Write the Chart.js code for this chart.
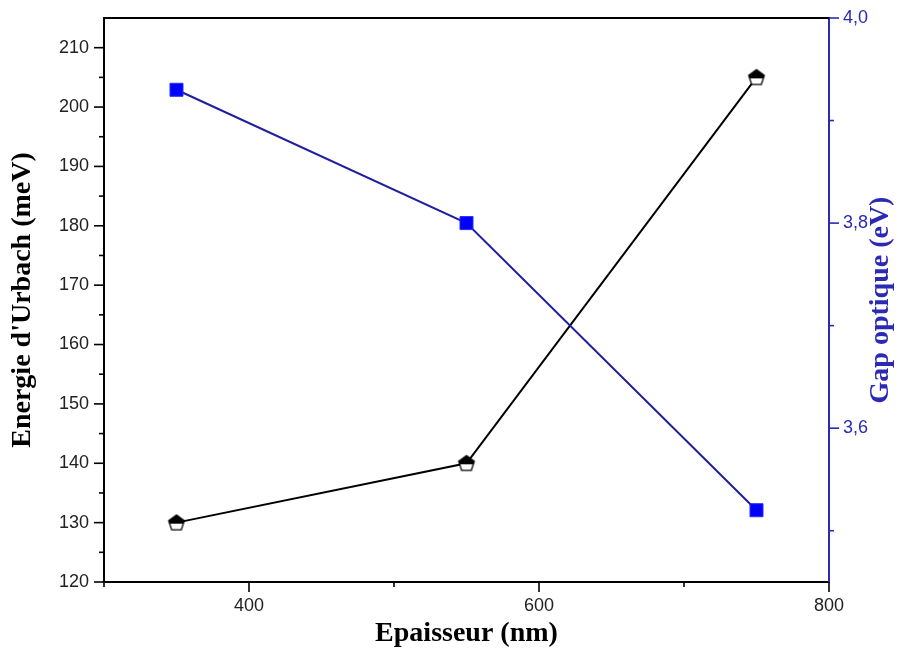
<!DOCTYPE html>
<html><head><meta charset="utf-8">
<script src="https://cdn.jsdelivr.net/npm/chart.js@4/dist/chart.umd.min.js"></script>
<style>html,body{margin:0;padding:0;background:#fff;}#wrap{width:907px;height:651px;}</style>
</head><body><div id="wrap"><canvas id="c" width="907" height="651"></canvas></div>
<script>
// ---- data ----
const thickness = [350, 550, 750];
const urbachEnergy = [130, 140, 205];
const opticalGap = [3.93, 3.80, 3.52];
// ---- ticks ----
const xMajorTicks = [400, 600, 800];
const xMinorTicks = [300, 500, 700];
const leftMajorTicks = [120, 130, 140, 150, 160, 170, 180, 190, 200, 210];
const leftMinorTicks = [125, 135, 145, 155, 165, 175, 185, 195, 205];
const rightMajorTicks = [3.6, 3.8, 4.0];
const rightMinorTicks = [3.5, 3.7, 3.9];

const BLUE_LINE = '#1e1e9e';
const BLUE_AXIS = '#2a2ab4';

function isIn(list, v) { return list.some(t => Math.abs(t - v) < 1e-9); }
function buildTicks(maj, min) {
  return maj.concat(min).sort((a, b) => a - b).map(v => ({ value: v, major: isIn(maj, v) }));
}

// half-filled pentagon marker
function pentagon() {
  const c = document.createElement('canvas');
  c.width = 20; c.height = 20;
  const g = c.getContext('2d');
  const cx = 10, cy = 10.5, r = 8.2;
  const pts = [];
  for (let i = 0; i < 5; i++) {
    const a = -Math.PI / 2 + i * 2 * Math.PI / 5;
    pts.push([cx + r * Math.cos(a), cy + r * Math.sin(a)]);
  }
  const path = () => { g.beginPath(); pts.forEach((p, i) => i ? g.lineTo(p[0], p[1]) : g.moveTo(p[0], p[1])); g.closePath(); };
  path(); g.fillStyle = '#fff'; g.fill();
  g.save(); path(); g.clip(); g.fillStyle = '#000'; g.fillRect(0, 0, 20, cy + 0.5); g.restore();
  path(); g.strokeStyle = '#000'; g.lineWidth = 1.3; g.stroke();
  return c;
}

const decor = {
  id: 'decor',
  afterDraw(chart) {
    const ctx = chart.ctx, a = chart.chartArea;
    ctx.save();
    ctx.lineWidth = 2;
    ctx.strokeStyle = '#000';
    ctx.beginPath(); ctx.moveTo(a.left - 1, a.top); ctx.lineTo(a.right, a.top); ctx.stroke();
    const tickMarks = (scale, dir, color) => {
      ctx.strokeStyle = color; ctx.lineWidth = 1.6;
      scale.ticks.forEach(t => {
        const len = t.major ? 10 : 5;
        const p = scale.getPixelForValue(t.value);
        ctx.beginPath();
        if (dir === 'down') { ctx.moveTo(p, a.bottom); ctx.lineTo(p, a.bottom + len); }
        else if (dir === 'left') { ctx.moveTo(a.left, p); ctx.lineTo(a.left - len, p); }
        else { ctx.moveTo(a.right, p); ctx.lineTo(a.right + len, p); }
        ctx.stroke();
      });
    };
    tickMarks(chart.scales.x, 'down', '#000');
    tickMarks(chart.scales.y, 'left', '#000');
    tickMarks(chart.scales.y1, 'right', BLUE_AXIS);
    // right title, reading bottom-to-top
    ctx.translate(881, (a.top + a.bottom) / 2);
    ctx.rotate(-Math.PI / 2);
    ctx.fillStyle = BLUE_AXIS;
    ctx.font = 'bold 28px "Liberation Serif"';
    ctx.textAlign = 'center'; ctx.textBaseline = 'middle';
    ctx.fillText('Gap optique (eV)', 0, 0);
    ctx.restore();
  }
};

const tickFont = { family: 'Liberation Sans', size: 18 };
const titleFont = { family: 'Liberation Serif', size: 28, weight: 'bold', lineHeight: 1.2 };

function fitV(w) { return s => { s.width = w; s.paddingTop = 0; s.paddingBottom = 0; }; }

new Chart(document.getElementById('c'), {
  type: 'line',
  data: {
    datasets: [
      {
        label: 'Gap optique',
        data: thickness.map((x, i) => ({ x, y: opticalGap[i] })),
        yAxisID: 'y1',
        borderColor: BLUE_LINE, borderWidth: 2,
        pointStyle: 'rect', pointRadius: 9.2, pointHoverRadius: 9.2,
        pointBackgroundColor: '#0000ff', pointBorderColor: '#2b2bff', pointBorderWidth: 1,
        tension: 0, fill: false
      },
      {
        label: "Energie d'Urbach",
        data: thickness.map((x, i) => ({ x, y: urbachEnergy[i] })),
        yAxisID: 'y',
        borderColor: '#000', borderWidth: 2,
        pointStyle: pentagon(), pointRadius: 9,
        tension: 0, fill: false
      }
    ]
  },
  options: {
    responsive: false, animation: false, devicePixelRatio: 1,
    layout: { padding: { top: 18, right: 0, left: 0, bottom: 0 } },
    plugins: { legend: { display: false }, tooltip: { enabled: false } },
    scales: {
      x: {
        type: 'linear', min: 300, max: 800,
        afterBuildTicks: s => { s.ticks = buildTicks(xMajorTicks, xMinorTicks); },
        afterFit: s => { s.height = 69; s.paddingLeft = 0; s.paddingRight = 0; },
        grid: { display: false, drawTicks: false },
        border: { display: true, color: '#000', width: 2 },
        ticks: { autoSkip: false, maxRotation: 0, padding: 13, color: '#222', font: tickFont,
          callback: v => isIn(xMajorTicks, v) ? String(v) : '' },
        title: { display: true, text: 'Epaisseur (nm)', color: '#000', font: titleFont, padding: { top: 0, bottom: 0 } }
      },
      y: {
        position: 'left', min: 120, max: 215,
        afterBuildTicks: s => { s.ticks = buildTicks(leftMajorTicks, leftMinorTicks); },
        afterFit: fitV(104),
        grid: { display: false, drawTicks: false },
        border: { display: true, color: '#000', width: 2 },
        ticks: { autoSkip: false, padding: 15, color: '#222', font: tickFont,
          callback: v => isIn(leftMajorTicks, v) ? String(v) : '' },
        title: { display: true, text: "Energie d'Urbach (meV)", color: '#000', font: titleFont, padding: { top: 6, bottom: 0 } }
      },
      y1: {
        position: 'right', min: 3.45, max: 4.0,
        afterBuildTicks: s => { s.ticks = buildTicks(rightMajorTicks, rightMinorTicks); },
        afterFit: fitV(78),
        grid: { display: false, drawTicks: false },
        border: { display: true, color: BLUE_AXIS, width: 2 },
        ticks: { autoSkip: false, padding: 14, color: BLUE_AXIS, font: tickFont,
          callback: v => isIn(rightMajorTicks, v) ? v.toFixed(1).replace('.', ',') : '' }
      }
    }
  },
  plugins: [decor]
});
</script>
</body></html>
